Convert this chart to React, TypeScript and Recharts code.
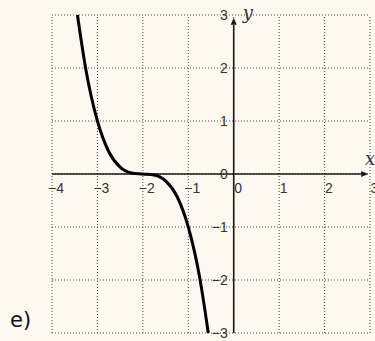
import { LineChart, Line, XAxis, YAxis, ReferenceLine, ReferenceDot } from "recharts";

// points
const xs = [-3.44, -3.25, -3, -2.75, -2.5, -2.25, -2, -1.75, -1.5, -1.25, -1, -0.75, -0.56];
const ys = [3, 1.95, 1, 0.42, 0.13, 0.02, 0, -0.02, -0.13, -0.42, -1, -1.95, -3];

const xTicks = [-4, -3, -2, -1, 0, 1, 2, 3];
const yTicks = [-3, -2, -1, 0, 1, 2, 3];
const xLabels = ["−4", "−3", "−2", "−1", "0", "1", "2", "3"];
const yLabels = ["−3", "−2", "−1", "0", "1", "2", "3"];

const data = xs.map((x, i) => ({ x, y: ys[i] }));

const INK = "#1a1a1a";
const TICK_FONT = "'Liberation Sans', Arial, sans-serif";
const VAR_FONT = "'DejaVu Serif', 'Liberation Serif', serif";

function Arrow(props: any) {
  const { x1, y1, x2, y2 } = props;
  const ang = Math.atan2(y2 - y1, x2 - x1);
  const len = 7;
  const w = 3;
  const bx = x2 - len * Math.cos(ang);
  const by = y2 - len * Math.sin(ang);
  const px = -Math.sin(ang) * w;
  const py = Math.cos(ang) * w;
  return (
    <g>
      <line x1={x1} y1={y1} x2={bx} y2={by} stroke={INK} strokeWidth={1.6} />
      <polygon points={`${x2},${y2} ${bx + px},${by + py} ${bx - px},${by - py}`} fill={INK} />
    </g>
  );
}

export default function App() {
  return (
    <div style={{ position: "absolute", left: 0, top: 0, width: 375, height: 341, background: "#fdf8f0" }}>
      <LineChart width={375} height={341} data={data} margin={{ top: 15, right: 5, bottom: 8, left: 52 }}>
        <XAxis type="number" dataKey="x" domain={[-4, 3]} ticks={xTicks} hide />
        <YAxis type="number" domain={[-3, 3]} ticks={yTicks} hide />
        {xTicks.map((t) => (
          <ReferenceLine key={"vx" + t} x={t} stroke="#444" strokeDasharray="1 2" strokeWidth={1} />
        ))}
        {yTicks.map((t) => (
          <ReferenceLine key={"hy" + t} y={t} stroke="#444" strokeDasharray="1 2" strokeWidth={1} />
        ))}
        <ReferenceLine segment={[{ x: -4, y: 0 }, { x: 2.96, y: 0 }]} shape={<Arrow />} />
        <ReferenceLine segment={[{ x: 0, y: -3 }, { x: 0, y: 2.95 }]} shape={<Arrow />} />
        {xTicks.map((t, i) => (
          <ReferenceDot
            key={"lx" + t}
            x={t}
            y={0}
            r={0}
            shape={(p: any) => (
              <text x={p.cx + (t < 0 ? -4 : 0.5)} y={p.cy + 19} fontFamily={TICK_FONT} fontSize={14} fill="#333">
                {xLabels[i]}
              </text>
            )}
          />
        ))}
        {yTicks.map((t, i) => (
          <ReferenceDot
            key={"ly" + t}
            x={0}
            y={t}
            r={0}
            shape={(p: any) => (
              <text x={p.cx - 6} y={p.cy + 5} textAnchor="end" fontFamily={TICK_FONT} fontSize={14} fill="#333">
                {yLabels[i]}
              </text>
            )}
          />
        ))}
        <ReferenceDot
          x={3}
          y={0}
          r={0}
          shape={(p: any) => (
            <text x={p.cx - 5} y={p.cy - 9} fontFamily={VAR_FONT} fontStyle="italic" fontSize={18} fill="#333">
              x
            </text>
          )}
        />
        <ReferenceDot
          x={0}
          y={3}
          r={0}
          shape={(p: any) => (
            <text x={p.cx + 9} y={p.cy + 4} fontFamily={VAR_FONT} fontStyle="italic" fontSize={18} fill="#333">
              y
            </text>
          )}
        />
        <Line
          type="monotone"
          dataKey="y"
          stroke="#000"
          strokeWidth={3}
          dot={false}
          isAnimationActive={false}
        />
      </LineChart>
      <div
        style={{
          position: "absolute",
          left: 10,
          top: 308,
          fontFamily: "'DejaVu Sans', sans-serif",
          fontSize: 21,
          color: "#111",
        }}
      >
        e)
      </div>
    </div>
  );
}
